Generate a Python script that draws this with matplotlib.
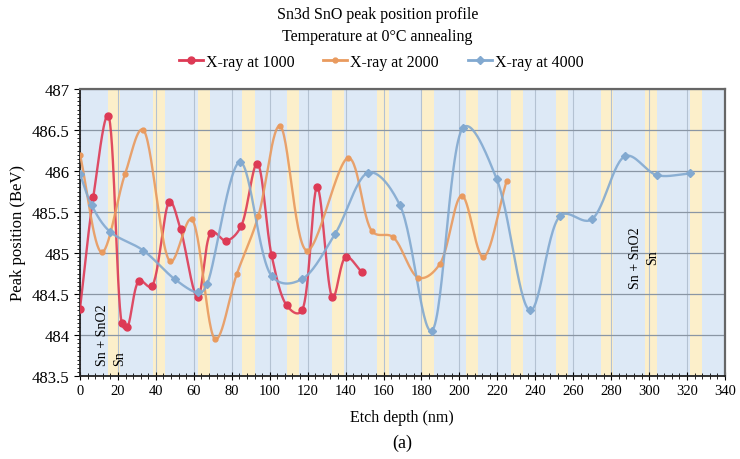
import numpy as np
import matplotlib.pyplot as plt
from matplotlib.ticker import MultipleLocator, FuncFormatter

plt.rcParams['font.family'] = ['Liberation Serif', 'DejaVu Serif']

# etch depth (nm) and Sn3d peak position for each x-ray dose
depth_1000 = [0, 7, 15, 22, 25, 31, 38, 47, 53, 62, 69, 77, 85, 93.5, 101, 109, 117, 125, 133, 140, 148.5]
peak_1000 = [484.32, 485.68, 486.67, 484.15, 484.1, 484.66, 484.6, 485.62, 485.29, 484.46, 485.25,
             485.15, 485.33, 486.09, 484.97, 484.36, 484.3, 485.8, 484.46, 484.95, 484.77]

depth_2000 = [0, 11.4, 23.7, 33.4, 47.4, 58.9, 71.2, 82.6, 94, 105.4, 119.5, 141.4, 153.8, 165.2,
              178.3, 189.8, 201.2, 212.6, 224.9]
peak_2000 = [486.2, 485.01, 485.96, 486.5, 484.9, 485.41, 483.95, 484.74, 485.45, 486.55, 485.03,
             486.16, 485.27, 485.19, 484.7, 484.87, 485.7, 484.95, 485.88]

depth_4000 = [0, 6.2, 15.8, 33.4, 50, 62, 67, 84.3, 101, 116.9, 134.4, 152, 168.7, 185.4, 202,
              219.7, 237.2, 253, 269.7, 287.3, 304, 321.6]
peak_4000 = [485.96, 485.58, 485.26, 485.03, 484.68, 484.52, 484.62, 486.11, 484.72, 484.68, 485.23,
             485.98, 485.58, 484.05, 486.53, 485.9, 484.3, 485.45, 485.41, 486.18, 485.95, 485.97]

series = [
    ("X-ray at 1000", depth_1000, peak_1000, "#dd3a55", "o", 5),
    ("X-ray at 2000", depth_2000, peak_2000, "#e99a5e", "o", 3.5),
    ("X-ray at 4000", depth_4000, peak_4000, "#82a9d0", "D", 4.5),
]


def smooth(x, y, n=30, alpha=0.3, yscale=43.0):
    # Catmull-Rom curve through the points (y scaled to screen aspect)
    pts = np.column_stack([x, np.asarray(y) * yscale]).astype(float)
    p = np.vstack([2 * pts[0] - pts[1], pts, 2 * pts[-1] - pts[-2]])
    out = []
    for i in range(1, len(p) - 2):
        p0, p1, p2, p3 = p[i - 1], p[i], p[i + 1], p[i + 2]
        t0 = 0.0
        t1 = t0 + np.linalg.norm(p1 - p0) ** alpha
        t2 = t1 + np.linalg.norm(p2 - p1) ** alpha
        t3 = t2 + np.linalg.norm(p3 - p2) ** alpha
        t = np.linspace(t1, t2, n, endpoint=False)[:, None]
        a1 = (t1 - t) / (t1 - t0) * p0 + (t - t0) / (t1 - t0) * p1
        a2 = (t2 - t) / (t2 - t1) * p1 + (t - t1) / (t2 - t1) * p2
        a3 = (t3 - t) / (t3 - t2) * p2 + (t - t2) / (t3 - t2) * p3
        b1 = (t2 - t) / (t2 - t0) * a1 + (t - t0) / (t2 - t0) * a2
        b2 = (t3 - t) / (t3 - t1) * a2 + (t - t1) / (t3 - t1) * a3
        out.append((t2 - t) / (t2 - t1) * b1 + (t - t1) / (t2 - t1) * b2)
    out.append(pts[-1:])
    c = np.vstack(out)
    return c[:, 0], c[:, 1] / yscale


fig = plt.figure(figsize=(7.4, 4.6), dpi=100)
ax = fig.add_axes([80 / 740, 1 - 377 / 460, 645 / 740, 287 / 460])

# striped background
ax.set_facecolor("#dde9f6")
for c in np.arange(18, 340, 23.6):
    ax.axvspan(c - 3.2, c + 3.2, color="#fcefca", lw=0, zorder=0)

ax.grid(axis="y", color="#8a96a4", lw=0.9, zorder=1)
ax.grid(axis="x", color="#b4c2d2", lw=0.8, zorder=1)

for label, x, y, color, marker, ms in series:
    sx, sy = smooth(x, y)
    ax.plot(sx, sy, color=color, lw=1.7, alpha=0.9, zorder=3)
    ax.plot(x, y, ls="none", marker=marker, ms=ms, color=color, zorder=4)
    ax.plot([], [], color=color, lw=2, marker=marker, ms=ms, label=label)

ax.text(12, 483.63, "Sn + SnO2", rotation=90, ha="center", va="bottom", fontsize=10)
ax.text(21, 483.63, "Sn", rotation=90, ha="center", va="bottom", fontsize=10)
ax.text(293, 484.95, "Sn + SnO2", rotation=90, ha="center", va="center", fontsize=10)
ax.text(302, 484.95, "Sn", rotation=90, ha="center", va="center", fontsize=10)

ax.set_xlim(0, 340)
ax.set_ylim(483.5, 487)
ax.xaxis.set_major_locator(MultipleLocator(20))
ax.xaxis.set_minor_locator(MultipleLocator(4))
ax.yaxis.set_major_locator(MultipleLocator(0.5))
ax.yaxis.set_minor_locator(MultipleLocator(0.05))
ax.yaxis.set_major_formatter(FuncFormatter(lambda v, _: f"{v:g}"))
ax.tick_params(axis="x", which="both", direction="inout", labelsize=10.5, pad=3)
ax.tick_params(axis="x", which="major", length=6)
ax.tick_params(axis="x", which="minor", length=4)
ax.tick_params(axis="y", which="both", direction="out", labelsize=12)
ax.tick_params(axis="y", which="major", length=4)
ax.tick_params(axis="y", which="minor", length=2.5)

for side in ["top", "right"]:
    ax.spines[side].set_color("#666666")
    ax.spines[side].set_linewidth(1.6)
for side in ["left", "bottom"]:
    ax.spines[side].set_color("#222222")
    ax.spines[side].set_linewidth(1.3)

fig.text(0.51, 1 - 15 / 460, "Sn3d SnO peak position profile", ha="center", va="center", fontsize=11.5)
fig.text(0.51, 1 - 37 / 460, "Temperature at 0°C annealing", ha="center", va="center", fontsize=11.5)
fig.legend(loc="center", bbox_to_anchor=(0.515, 1 - 63 / 460), ncol=3, frameon=False,
           fontsize=11.5, handlelength=1.5, handletextpad=0.2, columnspacing=1.8)

fig.text(18 / 740, 1 - 233 / 460, "Peak position (BeV)", rotation=90, ha="center", va="center", fontsize=12)
fig.text(402 / 740, 1 - 418 / 460, "Etch depth (nm)", ha="center", va="center", fontsize=11.5)
fig.text(402 / 740, 1 - 443 / 460, "(a)", ha="center", va="center", fontsize=13)

fig.savefig("out.png", dpi=100)
